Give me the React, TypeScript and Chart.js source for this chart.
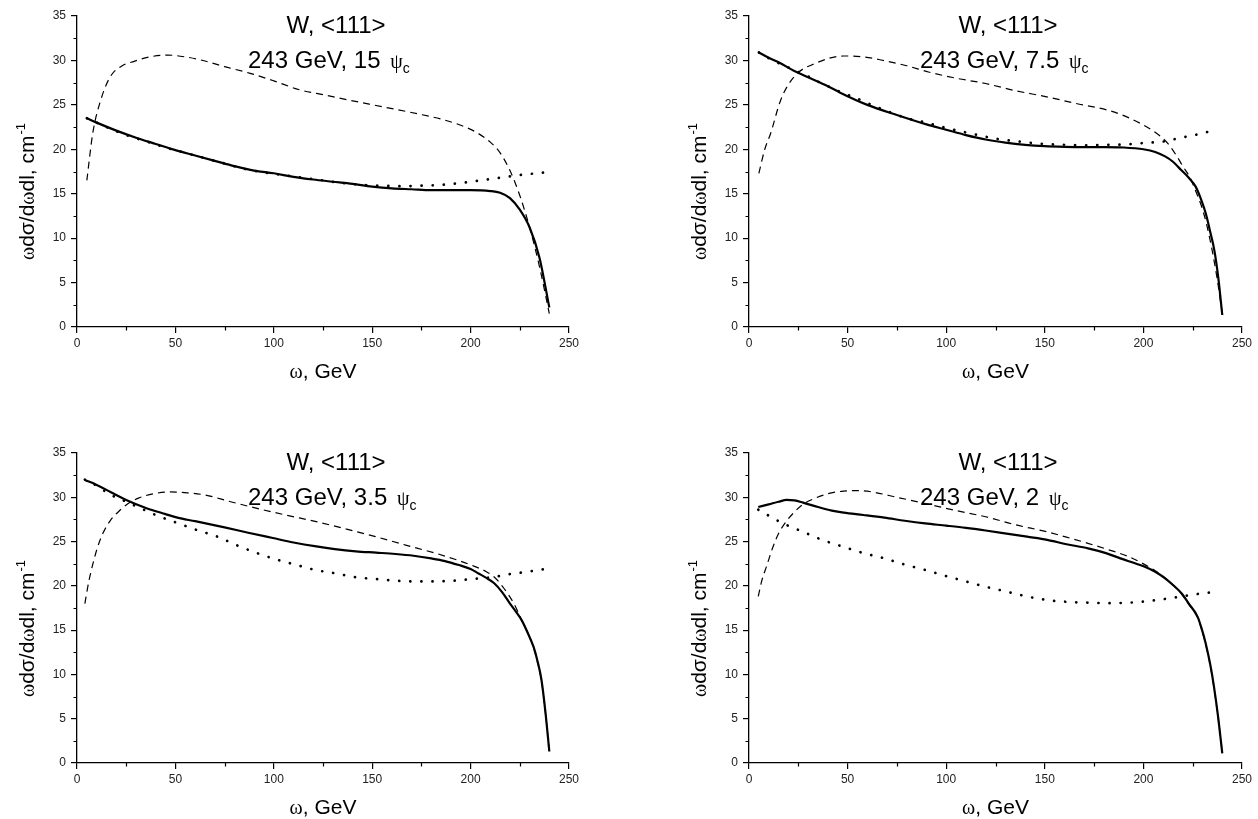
import React, { useEffect, useRef } from "react";
import { Chart, registerables } from "chart.js";

Chart.register(...registerables);

// ---------- axes ----------
const X_MIN = 0;
const X_MAX = 250;
const X_STEP = 50;
const X_MINOR = 25;
const Y_MIN = 0;
const Y_MAX = 35;
const Y_STEP = 5;
const Y_MINOR = 2.5;

// ---------- texts ----------
const titleLine1 = "W, <111>";
const energyText = "243 GeV, ";
const angleLabels = ["15", "7.5", "3.5", "2"];
const psiSymbol = "\u03C8";
const psiSub = "c";
const omega = "\u03C9";
const xTitleRest = ", GeV";
const yTitleParts = ["d\u03C3/d", "dl, cm"];
const yTitleSup = "-1";

// ---------- data: 15 psi_c ----------
const solid15X = [5, 10, 20, 30, 40, 50, 60, 70, 80, 90, 100, 110, 120, 130, 140, 150, 160, 170, 180, 190, 200, 210, 215, 220, 225, 230, 235, 240];
const solid15Y = [23.5, 23.0, 22.1, 21.3, 20.6, 19.9, 19.3, 18.7, 18.1, 17.6, 17.3, 16.9, 16.6, 16.35, 16.1, 15.8, 15.6, 15.5, 15.4, 15.4, 15.4, 15.3, 15.1, 14.5, 13.2, 11.2, 7.8, 2.2];
const dotted15X = [5, 15, 25, 35, 45, 55, 65, 75, 85, 95, 105, 115, 125, 135, 145, 155, 165, 175, 185, 195, 205, 215, 225, 238];
const dotted15Y = [23.5, 22.5, 21.6, 20.9, 20.2, 19.6, 19.0, 18.4, 17.8, 17.4, 17.1, 16.8, 16.5, 16.2, 16.0, 15.9, 15.85, 15.9, 16.0, 16.2, 16.5, 16.8, 17.1, 17.4];
const dashed15X = [5, 8, 12, 17, 23, 29, 37, 46, 55, 63, 75, 88, 100, 113, 126, 139, 155, 173, 185, 195, 203, 210, 215, 220, 225, 230, 235, 240];
const dashed15Y = [16.5, 21.8, 25.5, 28.2, 29.4, 29.9, 30.4, 30.6, 30.4, 30.05, 29.3, 28.55, 27.7, 26.7, 26.1, 25.5, 24.8, 24.0, 23.4, 22.7, 21.9, 20.8, 19.6, 17.6, 14.8, 11.2, 6.8, 1.5];

// ---------- data: 7.5 psi_c ----------
const solid75X = [5, 10, 15, 23, 30, 40, 46, 60, 75, 90, 100, 110, 120, 130, 140, 150, 160, 170, 180, 190, 200, 206, 211, 215, 219, 223, 226.5, 229, 231.6, 234, 236, 238, 240];
const solid75Y = [30.9, 30.3, 29.8, 28.8, 28.1, 27.1, 26.4, 25.0, 23.86, 22.8, 22.2, 21.6, 21.1, 20.75, 20.5, 20.35, 20.28, 20.25, 20.25, 20.2, 20.0, 19.7, 19.2, 18.6, 17.7, 16.8, 15.8, 14.5, 12.8, 10.6, 8.6, 5.5, 1.35];
const dotted75X = [5, 12, 18, 24, 30, 36, 42, 48, 54, 60, 70, 80, 90, 100, 112, 125, 140, 150, 161.5, 172, 182, 192, 200, 211, 219, 226, 231.6, 237];
const dotted75Y = [30.9, 30.0, 29.4, 28.8, 28.2, 27.5, 26.9, 26.3, 25.8, 25.2, 24.3, 23.5, 23.0, 22.4, 21.8, 21.2, 20.8, 20.6, 20.5, 20.45, 20.5, 20.55, 20.7, 20.9, 21.3, 21.6, 21.9, 22.2];
const dashed75X = [5, 8, 11, 16, 23, 34, 48, 58, 67, 80, 91, 105, 120, 135, 151, 167, 182, 191, 198.6, 204, 209, 213, 217, 220, 223.4, 226.5, 229.6, 232, 234.8, 237.5, 240];
const dashed75Y = [17.3, 20.0, 21.8, 25.5, 28.2, 29.7, 30.5, 30.4, 30.05, 29.4, 28.7, 28.0, 27.4, 26.6, 25.9, 25.1, 24.4, 23.7, 22.9, 22.2, 21.4, 20.5, 19.2, 18.1, 16.9, 15.3, 13.5, 11.6, 8.7, 5.3, 1.5];

// ---------- data: 3.5 psi_c ----------
const solid35X = [4, 10, 17, 25, 35, 45, 51, 60, 75, 87, 99.5, 110, 121.6, 131, 141.7, 152, 161.8, 171, 180, 187, 194, 200, 204, 208, 212, 216, 220, 223, 226, 229, 232, 234, 236, 238, 240];
const solid35Y = [31.95, 31.4, 30.6, 29.7, 28.8, 28.1, 27.7, 27.3, 26.6, 26.0, 25.4, 24.9, 24.45, 24.15, 23.9, 23.75, 23.6, 23.4, 23.1, 22.8, 22.35, 21.9, 21.4, 20.9, 20.3, 19.3, 18.0, 17.1, 16.1, 14.7, 13.1, 11.5, 9.4, 5.8, 1.3];
const dotted35X = [4, 10, 17, 24, 31, 40, 51, 61, 71.4, 81, 91.5, 101, 111.6, 121, 131.6, 141, 151.7, 161, 171.8, 182, 191.9, 202, 212, 219, 226, 232, 238];
const dotted35Y = [32.0, 31.3, 30.3, 29.6, 28.9, 28.0, 27.1, 26.3, 25.55, 24.6, 23.7, 23.0, 22.35, 21.8, 21.4, 21.0, 20.77, 20.6, 20.5, 20.5, 20.6, 20.8, 21.0, 21.3, 21.5, 21.7, 21.9];
const dashed35X = [4, 6, 8.1, 10.5, 13.1, 17, 21.2, 26, 31.2, 39, 47.3, 56, 65.3, 78, 91.5, 106, 121.6, 137, 151.7, 167, 181.9, 192, 202, 208, 212, 217, 222, 226, 229, 232, 234, 236, 238, 240];
const dashed35Y = [18.0, 20.5, 22.5, 24.4, 25.9, 27.4, 28.4, 29.3, 29.9, 30.4, 30.6, 30.5, 30.25, 29.5, 28.75, 28.0, 27.25, 26.4, 25.55, 24.6, 23.7, 23.0, 22.2, 21.6, 21.0, 19.7, 18.0, 16.1, 14.7, 13.0, 11.4, 9.3, 5.7, 1.4];

// ---------- data: 2 psi_c ----------
const solid2X = [4.7, 10, 15, 19.2, 23, 27.4, 35, 42, 48, 58, 68.7, 79, 89.3, 100, 110, 120, 130.6, 141, 151.2, 161, 171.9, 181, 188.3, 195, 200.7, 206, 211, 215, 219.3, 223, 227.5, 229.5, 231.6, 234, 235.8, 238, 240];
const solid2Y = [28.9, 29.2, 29.5, 29.7, 29.65, 29.4, 28.9, 28.5, 28.26, 28.0, 27.7, 27.35, 27.05, 26.8, 26.55, 26.25, 25.9, 25.55, 25.2, 24.7, 24.24, 23.7, 23.1, 22.6, 22.16, 21.6, 20.85, 20.1, 19.16, 18.0, 16.5, 15.2, 13.5, 11.0, 8.6, 5.0, 1.1];
const dotted2X = [4.7, 11, 17.1, 22, 27.4, 37, 48, 58, 68.7, 79, 89.3, 100, 110, 120, 130.6, 141, 151.2, 161, 171.9, 182, 192.5, 203, 213.5, 222, 231.6, 237];
const dotted2Y = [28.6, 27.8, 27.06, 26.6, 26.1, 25.2, 24.4, 23.7, 23.1, 22.4, 21.8, 21.1, 20.5, 19.9, 19.35, 18.8, 18.4, 18.2, 18.1, 18.05, 18.1, 18.3, 18.6, 18.9, 19.2, 19.3];
const dashed2X = [4.7, 6.5, 8.9, 12, 15, 19, 23.3, 28, 33.6, 40, 48, 55, 62.5, 75, 89.3, 105, 120, 135, 151.2, 161, 171.9, 182, 192.5, 200.7, 206, 211, 215, 219.3, 223, 227.5, 229.5, 231.6, 234, 235.8, 238, 240];
const dashed2Y = [18.8, 20.6, 22.2, 24.3, 25.9, 27.3, 28.4, 29.3, 29.9, 30.4, 30.7, 30.75, 30.6, 30.0, 29.3, 28.5, 27.8, 26.9, 26.1, 25.5, 24.8, 24.1, 23.3, 22.4, 21.7, 20.9, 20.1, 19.1, 17.9, 16.4, 15.1, 13.4, 10.9, 8.5, 4.9, 1.2];

// ---------- layout / style ----------
const SANS = '"Liberation Sans", Arial, sans-serif';
const SERIF = '"Liberation Serif", "Times New Roman", serif';
const AXIS_W = 77;
const AXIS_H = 56;
const PAD_T = 16;
const PAD_R = 20;

type Kind = "solid" | "dotted" | "dashed";
type Series = { x: number[]; y: number[]; kind: Kind };

const panels = [
  { left: 77, top: 16, w: 492, h: 311, angle: angleLabels[0], series: [
    { x: dashed15X, y: dashed15Y, kind: "dashed" as Kind },
    { x: dotted15X, y: dotted15Y, kind: "dotted" as Kind },
    { x: solid15X, y: solid15Y, kind: "solid" as Kind },
  ] },
  { left: 749, top: 16, w: 493, h: 311, angle: angleLabels[1], series: [
    { x: dashed75X, y: dashed75Y, kind: "dashed" as Kind },
    { x: dotted75X, y: dotted75Y, kind: "dotted" as Kind },
    { x: solid75X, y: solid75Y, kind: "solid" as Kind },
  ] },
  { left: 77, top: 453, w: 492, h: 310, angle: angleLabels[2], series: [
    { x: dashed35X, y: dashed35Y, kind: "dashed" as Kind },
    { x: dotted35X, y: dotted35Y, kind: "dotted" as Kind },
    { x: solid35X, y: solid35Y, kind: "solid" as Kind },
  ] },
  { left: 749, top: 453, w: 493, h: 310, angle: angleLabels[3], series: [
    { x: dashed2X, y: dashed2Y, kind: "dashed" as Kind },
    { x: dotted2X, y: dotted2Y, kind: "dotted" as Kind },
    { x: solid2X, y: solid2Y, kind: "solid" as Kind },
  ] },
];

type Run = { text: string; font: string; dy?: number; gap?: number };

function runsWidth(ctx: CanvasRenderingContext2D, runs: Run[]) {
  let w = 0;
  for (const r of runs) {
    ctx.font = r.font;
    w += ctx.measureText(r.text).width + (r.gap || 0);
  }
  return w;
}

function drawRuns(ctx: CanvasRenderingContext2D, runs: Run[], x: number, y: number) {
  let cx = x;
  for (const r of runs) {
    ctx.font = r.font;
    ctx.fillText(r.text, cx, y + (r.dy || 0));
    cx += ctx.measureText(r.text).width + (r.gap || 0);
  }
}

const decorPlugin = {
  id: "decor",
  afterDraw(chart: any, _args: any, opts: any) {
    const ctx: CanvasRenderingContext2D = chart.ctx;
    const a = chart.chartArea;
    const xs = chart.scales.x;
    const ys = chart.scales.y;
    ctx.save();
    // minor ticks
    ctx.strokeStyle = "#000";
    ctx.lineWidth = 1.2;
    ctx.beginPath();
    for (let v = X_MINOR; v < X_MAX; v += X_STEP) {
      const px = Math.round(xs.getPixelForValue(v)) + 0.5;
      ctx.moveTo(px, a.bottom);
      ctx.lineTo(px, a.bottom + 3.5);
    }
    for (let v = Y_MINOR; v < Y_MAX; v += Y_STEP) {
      const py = Math.round(ys.getPixelForValue(v)) + 0.5;
      ctx.moveTo(a.left, py);
      ctx.lineTo(a.left - 3.5, py);
    }
    ctx.stroke();

    ctx.fillStyle = "#000";
    ctx.textBaseline = "alphabetic";
    // title line 1
    ctx.font = `24px ${SANS}`;
    ctx.textAlign = "center";
    ctx.fillText(titleLine1, a.left + 259, a.top + 17);
    // title line 2
    ctx.textAlign = "left";
    drawRuns(ctx, [
      { text: energyText + opts.angle + " ", font: `24px ${SANS}`, gap: 3 },
      { text: psiSymbol, font: `20px ${SERIF}`, gap: 0 },
      { text: psiSub, font: `14px ${SANS}`, dy: 5 },
    ], a.left + 171, a.top + 52);

    // x axis title
    const xRuns: Run[] = [
      { text: omega, font: `20px ${SERIF}` },
      { text: xTitleRest, font: `21px ${SANS}` },
    ];
    const xw = runsWidth(ctx, xRuns);
    drawRuns(ctx, xRuns, (a.left + a.right) / 2 - xw / 2, a.bottom + 51);

    // y axis title
    ctx.translate(a.left - 43, a.top + 244);
    ctx.rotate(-Math.PI / 2);
    drawRuns(ctx, [
      { text: omega, font: `20px ${SERIF}` },
      { text: yTitleParts[0], font: `21px ${SANS}` },
      { text: omega, font: `20px ${SERIF}` },
      { text: yTitleParts[1], font: `21px ${SANS}`, gap: 1 },
      { text: yTitleSup, font: `13px ${SANS}`, dy: -9 },
    ], 0, 0);
    ctx.restore();
  },
};

function Panel(p: { left: number; top: number; w: number; h: number; angle: string; series: Series[] }) {
  const ref = useRef<HTMLCanvasElement>(null);
  const W = p.w + AXIS_W + PAD_R;
  const H = p.h + PAD_T + AXIS_H;
  useEffect(() => {
    const canvas = ref.current;
    if (!canvas) return;
    const datasets = p.series.map((s) => ({
      data: s.x.map((x, i) => ({ x, y: s.y[i] })),
      borderColor: "#000",
      backgroundColor: "#000",
      borderWidth: s.kind === "solid" ? 2.2 : s.kind === "dashed" ? 1.2 : 2.7,
      borderDash: s.kind === "dashed" ? [7, 5] : s.kind === "dotted" ? [0.1, 11] : [],
      borderCapStyle: (s.kind === "dotted" ? "round" : "butt") as CanvasLineCap,
      pointRadius: 0,
      cubicInterpolationMode: "monotone" as const,
      fill: false,
    }));
    const tickFont = { family: SANS, size: 12 };
    const chart = new Chart(canvas, {
      type: "line",
      data: { datasets },
      options: {
        animation: false,
        responsive: false,
        devicePixelRatio: 1,
        parsing: true,
        layout: { padding: { left: 0, top: PAD_T, right: PAD_R, bottom: 0 } },
        plugins: {
          legend: { display: false },
          tooltip: { enabled: false },
          decor: { angle: p.angle },
        } as any,
        scales: {
          x: {
            type: "linear",
            min: X_MIN,
            max: X_MAX,
            afterFit: (s: any) => { s.height = AXIS_H; },
            ticks: { stepSize: X_STEP, autoSkip: false, maxRotation: 0, padding: 3, color: "#222", font: tickFont },
            grid: { drawOnChartArea: false, drawTicks: true, tickLength: 6, color: "#000", lineWidth: 1.2 },
            border: { display: true, color: "#000", width: 1.3 },
          },
          y: {
            type: "linear",
            min: Y_MIN,
            max: Y_MAX,
            afterFit: (s: any) => { s.width = AXIS_W; },
            ticks: { stepSize: Y_STEP, padding: 5, color: "#222", font: tickFont },
            grid: { drawOnChartArea: false, drawTicks: true, tickLength: 6, color: "#000", lineWidth: 1.2 },
            border: { display: true, color: "#000", width: 1.3 },
          },
        },
      },
      plugins: [decorPlugin as any],
    });
    return () => chart.destroy();
  }, []);
  return (
    <canvas
      ref={ref}
      width={W}
      height={H}
      style={{ position: "absolute", left: p.left - AXIS_W, top: p.top - PAD_T, width: W, height: H }}
    />
  );
}

export default function App() {
  return (
    <div style={{ position: "absolute", left: 0, top: 0, width: 1258, height: 819, background: "#fff", overflow: "hidden" }}>
      {panels.map((p, i) => (
        <Panel key={i} {...p} />
      ))}
    </div>
  );
}
